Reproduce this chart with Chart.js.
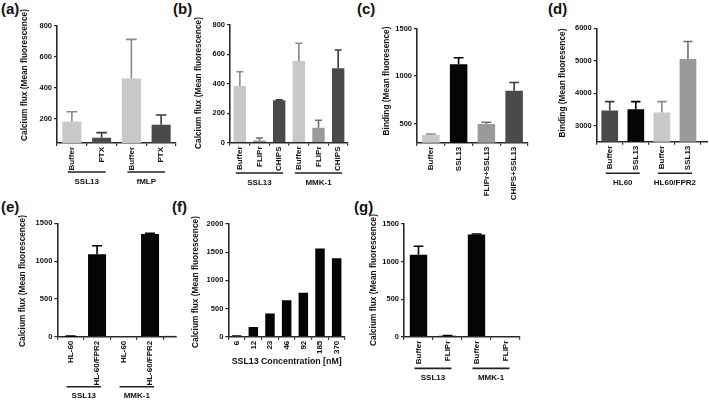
<!DOCTYPE html>
<html><head><meta charset="utf-8">
<script src="https://cdn.jsdelivr.net/npm/chart.js@4/dist/chart.umd.min.js"></script>
<style>
html,body{margin:0;padding:0;background:#fff}
body{width:709px;height:400px;position:relative;overflow:hidden;font-family:"Liberation Sans",Arial,sans-serif}
canvas{position:absolute}
.lt{position:absolute;font-weight:bold;font-size:15px;line-height:15px;color:#111;font-family:"Liberation Sans",Arial,sans-serif}
</style></head><body>
<div class="lt" style="left:1px;top:1px">(a)</div>
<div class="lt" style="left:173px;top:1px">(b)</div>
<div class="lt" style="left:357px;top:1px">(c)</div>
<div class="lt" style="left:548px;top:1px">(d)</div>
<div class="lt" style="left:1px;top:199px">(e)</div>
<div class="lt" style="left:172px;top:199px">(f)</div>
<div class="lt" style="left:354px;top:199px">(g)</div>
<script>
// ---------- DATA ----------
const catsA = ['Buffer','PTX','Buffer','PTX'];
const valsA = [183, 79, 462, 163];
const sdA   = [64, 33, 252, 63];
const groupsA = ['SSL13','fMLP'];
const ticksA = [200, 400, 600, 800];

const catsB = ['Buffer','FLIPr','CHIPS','Buffer','FLIPr','CHIPS'];
const valsB = [384, 14, 287, 555, 100, 505];
const sdB   = [98, 17, 3, 121, 52, 125];
const groupsB = ['SSL13','MMK-1'];
const ticksB = [0, 200, 400, 600, 800];

const catsC = ['Buffer','SSL13','FLIPr+SSL13','CHIPS+SSL13'];
const valsC = [381, 1124, 497, 845];
const sdC   = [10, 69, 18, 88];
const ticksC = [500, 1000, 1500];

const catsD = ['Buffer','SSL13','Buffer','SSL13'];
const valsD = [3462, 3505, 3400, 5050];
const sdD   = [276, 233, 338, 544];
const groupsD = ['HL60','HL60/FPR2'];
const ticksD = [3000, 4000, 5000, 6000];

const catsE = ['HL-60','HL-60/FPR2','HL-60','HL-60/FPR2'];
const valsE = [5, 1090, 0, 1360];
const sdE   = [3, 114, 0, 8];
const groupsE = ['SSL13','MMK-1'];
const ticksE = [0, 500, 1000, 1500];

const catsF = ['6','12','23','46','92','185','370'];
const valsF = [25, 170, 412, 647, 782, 1565, 1394];
const ticksF = [0, 500, 1000, 1500, 2000];

const catsG = ['Buffer','FLIPr','Buffer','FLIPr'];
const valsG = [1090, 12, 1360, 0];
const sdG   = [114, 4, 6, 0];
const groupsG = ['SSL13','MMK-1'];
const ticksG = [0, 500, 1000, 1500];

// ---------- STYLE ----------
const LIGHT='#c8c8c8', MID='#9a9a9a', DARK='#4a4a4a', BLACK='#050505';
const ERR = {}; ERR[LIGHT]='#8a8a8a'; ERR[MID]='#6e6e6e'; ERR[DARK]='#3a3a3a'; ERR[BLACK]='#000';
const FONT = '"Liberation Sans", Arial, sans-serif';
const AXIS = '#2a2a2a';
const CA = 'Calcium flux (Mean fluorescence)';
const BI = 'Binding (Mean fluoresence)';

const decor = {
  id: 'decor',
  afterDatasetsDraw(chart, args, o) {
    if (!o.sd) return;
    const ctx = chart.ctx, y = chart.scales.y, meta = chart.getDatasetMeta(0);
    const vals = chart.data.datasets[0].data;
    const cols = chart.data.datasets[0].backgroundColor;
    o.sd.forEach((s, i) => {
      if (!s) return;
      const bar = meta.data[i];
      const yb = y.getPixelForValue(vals[i]);
      const yt = y.getPixelForValue(vals[i] + s);
      const hw = bar.width * 0.28;
      ctx.save();
      ctx.strokeStyle = ERR[cols[i]] || '#000';
      ctx.lineWidth = 1.6;
      ctx.beginPath();
      ctx.moveTo(bar.x, yb); ctx.lineTo(bar.x, yt);
      ctx.moveTo(bar.x - hw, yt); ctx.lineTo(bar.x + hw, yt);
      ctx.stroke();
      ctx.restore();
    });
  },
  afterDraw(chart, args, o) {
    const ctx = chart.ctx, x = chart.scales.x, ca = chart.chartArea;
    ctx.save();
    ctx.fillStyle = '#111';
    // x-axis line continues past the last category
    if (o.axEnd) {
      ctx.strokeStyle = AXIS; ctx.lineWidth = 1.6;
      ctx.beginPath(); ctx.moveTo(ca.right - 1, ca.bottom); ctx.lineTo(o.axEnd, ca.bottom); ctx.stroke();
    }
    // y title
    ctx.save();
    ctx.translate(o.ytX, o.ytY);
    ctx.rotate(-Math.PI / 2);
    ctx.font = 'bold 8.3px ' + FONT;
    ctx.textAlign = 'center'; ctx.textBaseline = 'middle';
    ctx.fillText(o.yTitle, 0, 0);
    ctx.restore();
    // groups
    if (o.groups) {
      const n = chart.data.labels.length / o.groups.length;
      o.groups.forEach((g, k) => {
        const x1 = x.getPixelForValue(k * n) - 4;
        const x2 = x.getPixelForValue(k * n + n - 1) + 4;
        const ly = ca.bottom + o.lineOff;
        ctx.strokeStyle = '#222'; ctx.lineWidth = 1.6;
        ctx.beginPath(); ctx.moveTo(x1, ly); ctx.lineTo(x2, ly); ctx.stroke();
        ctx.font = 'bold 8px ' + FONT;
        ctx.textAlign = 'center'; ctx.textBaseline = 'middle';
        ctx.fillText(g, (x1 + x2) / 2, ly + 9.5);
      });
    }
    if (o.xTitle) {
      ctx.font = 'bold 8.8px ' + FONT;
      ctx.textAlign = 'center'; ctx.textBaseline = 'middle';
      ctx.fillText(o.xTitle, (ca.left + ca.right) / 2, ca.bottom + o.xtOff);
    }
    ctx.restore();
  }
};

function panel(p) {
  const c = document.createElement('canvas');
  c.width = p.W; c.height = p.H;
  c.style.left = p.L + 'px'; c.style.top = p.T + 'px';
  c.style.width = p.W + 'px'; c.style.height = p.H + 'px';
  document.body.appendChild(c);
  new Chart(c, {
    type: 'bar',
    data: { labels: p.cats, datasets: [{ data: p.vals, backgroundColor: p.colors,
      barPercentage: p.bp, categoryPercentage: 1, borderWidth: 0 }] },
    options: {
      responsive: false, animation: false, devicePixelRatio: 1,
      layout: { padding: { top: p.axT, right: p.W - p.axR, left: 0, bottom: 0 } },
      plugins: { legend: { display: false }, tooltip: { enabled: false },
        decor: { sd: p.sd, yTitle: p.yTitle, ytX: p.ytX, ytY: p.ytY, groups: p.groups,
                 lineOff: p.lineOff, xTitle: p.xTitle, xtOff: p.xtOff, axEnd: p.axEnd } },
      scales: {
        x: {
          grid: { display: true, drawOnChartArea: false, drawTicks: true, tickLength: 3, color: AXIS, lineWidth: 1.2 },
          border: { display: true, color: AXIS, width: 1.6 },
          ticks: { color: '#111', font: { family: FONT, size: 8, weight: 'bold' },
                   minRotation: 90, maxRotation: 90, autoSkip: false, padding: 1 },
          afterFit: s => { s.height = p.H - p.axB; }
        },
        y: {
          min: p.min, max: p.max,
          grid: { display: true, drawOnChartArea: false, drawTicks: true, tickLength: 3, color: AXIS, lineWidth: 1.2 },
          border: { display: true, color: AXIS, width: 1.6 },
          ticks: { color: '#111', font: { family: FONT, size: 7.5, weight: 'bold' }, padding: 2,
                   callback: v => String(v) },
          afterBuildTicks: s => { s.ticks = p.ticks.map(v => ({ value: v })); },
          afterFit: s => { s.width = p.axL; }
        }
      }
    },
    plugins: [decor]
  });
}

panel({ L: 0, T: 0, W: 180, H: 200, axL: 57, axT: 26, axB: 143, axR: 176,
  cats: catsA, vals: valsA, sd: sdA, colors: [LIGHT, DARK, LIGHT, DARK], bp: 0.64,
  min: 45, max: 800, ticks: ticksA, yTitle: CA, ytX: 25, ytY: 75,
  groups: groupsA, lineOff: 29 });

panel({ L: 175, T: 0, W: 180, H: 200, axL: 55, axT: 25, axB: 142.5, axR: 173,
  cats: catsB, vals: valsB, sd: sdB, colors: [LIGHT, MID, DARK, LIGHT, MID, DARK], bp: 0.63,
  min: 0, max: 800, ticks: ticksB, yTitle: CA, ytX: 24, ytY: 83,
  groups: groupsB, lineOff: 30.5 });

panel({ L: 355, T: 0, W: 180, H: 200, axL: 62, axT: 28.5, axB: 142.7, axR: 173,
  cats: catsC, vals: valsC, sd: sdC, colors: [LIGHT, BLACK, MID, DARK], bp: 0.63,
  min: 300, max: 1500, ticks: ticksC, yTitle: BI, ytX: 31.5, ytY: 81 });

panel({ L: 535, T: 0, W: 174, H: 200, axL: 61.7, axT: 28.3, axB: 141.7, axR: 166, axEnd: 173,
  cats: catsD, vals: valsD, sd: sdD, colors: [DARK, BLACK, LIGHT, MID], bp: 0.64,
  min: 2500, max: 6000, ticks: ticksD, yTitle: BI, ytX: 28, ytY: 83,
  groups: groupsD, lineOff: 31.6 });

panel({ L: 0, T: 200, W: 180, H: 200, axL: 57.3, axT: 23.3, axB: 136.7, axR: 163.3, axEnd: 176.7,
  cats: catsE, vals: valsE, sd: sdE, colors: [BLACK, BLACK, BLACK, BLACK], bp: 0.68,
  min: 0, max: 1500, ticks: ticksE, yTitle: CA, ytX: 23, ytY: 81,
  groups: groupsE, lineOff: 50 });

panel({ L: 175, T: 200, W: 180, H: 200, axL: 53.3, axT: 24, axB: 136.7, axR: 170,
  cats: catsF, vals: valsF, sd: null, colors: catsF.map(() => BLACK), bp: 0.57,
  min: 0, max: 2000, ticks: ticksF, yTitle: CA, ytX: 20.3, ytY: 82,
  xTitle: 'SSL13 Concentration [nM]', xtOff: 25 });

panel({ L: 355, T: 200, W: 180, H: 200, axL: 49, axT: 24, axB: 136.7, axR: 165,
  cats: catsG, vals: valsG, sd: sdG, colors: [BLACK, BLACK, BLACK, BLACK], bp: 0.6,
  min: 0, max: 1500, ticks: ticksG, yTitle: CA, ytX: 19, ytY: 80,
  groups: groupsG, lineOff: 31.7 });
</script>
</body></html>
